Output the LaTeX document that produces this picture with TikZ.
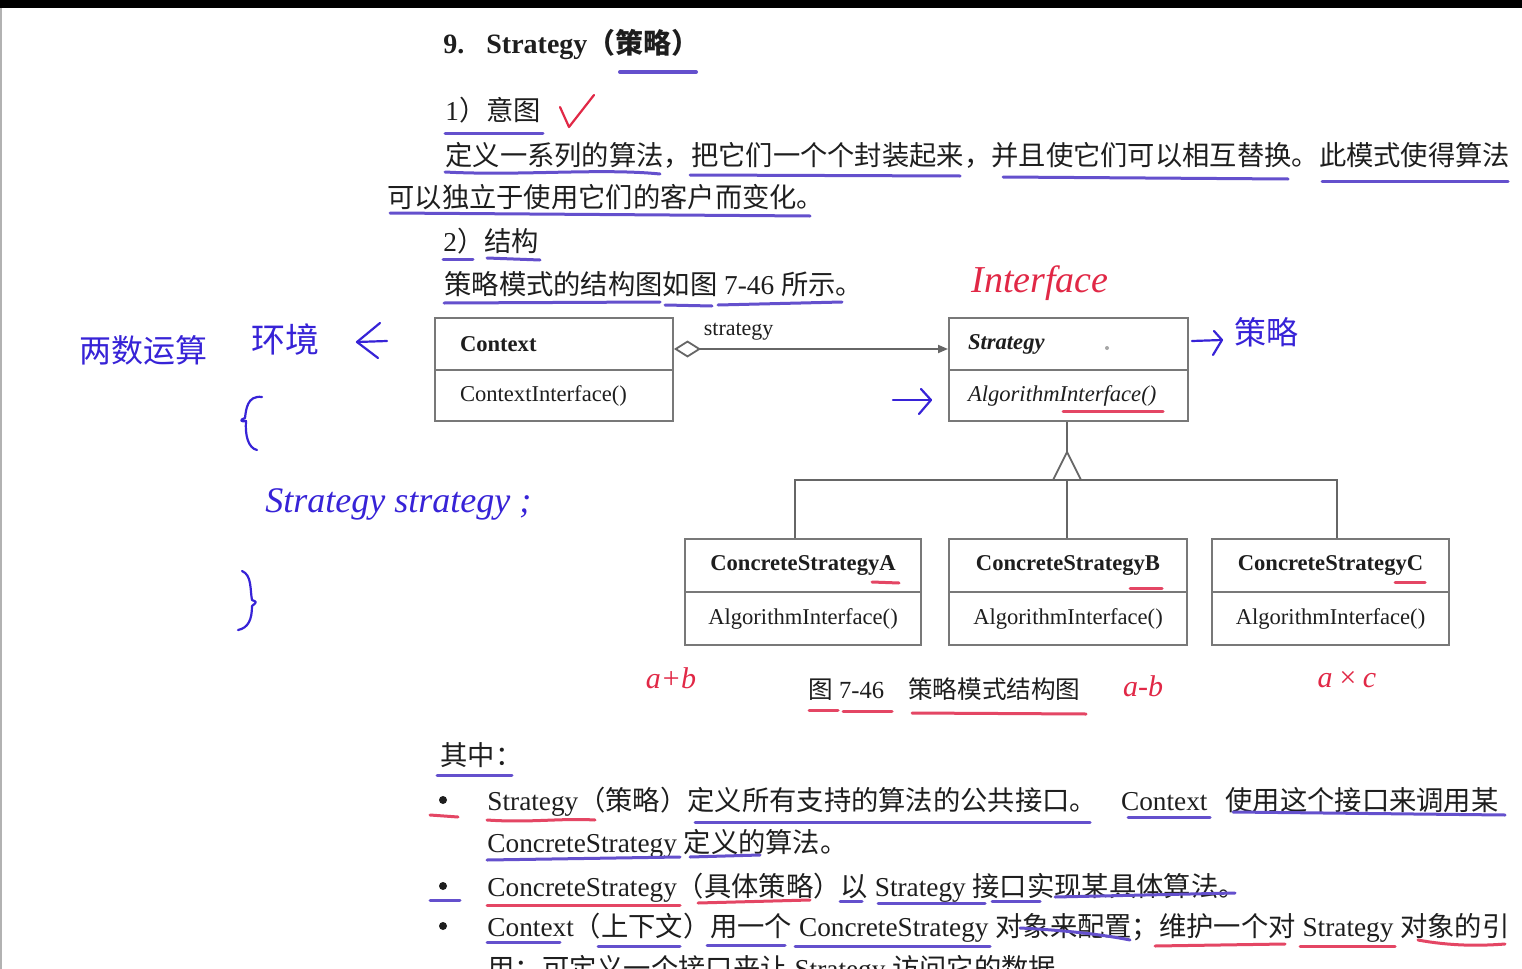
\documentclass[tikz,border=0pt]{standalone}
\usepackage{fontspec}
\setmainfont{Liberation Serif}
\newfontfamily\cjk{Noto Sans CJK SC}
\usetikzlibrary{arrows.meta}
\definecolor{ink}{RGB}{30,30,30}
\definecolor{boxgray}{RGB}{120,120,120}
\definecolor{penblue}{RGB}{55,35,215}
\definecolor{penred}{RGB}{225,40,70}
\definecolor{ulblue}{RGB}{100,80,205}
\definecolor{ulred}{RGB}{228,70,100}
\newcommand{\zh}[1]{{\cjk #1}}
\begin{document}
\begin{tikzpicture}[x=0.5pt,y=-0.5pt,
  body/.style={anchor=base west,inner sep=0pt,text=ink,font=\fontsize{13.65}{16}\selectfont},
  umlbox/.style={draw=boxgray,line width=1pt,inner sep=0pt,text=ink,font=\fontsize{11.3}{13}\selectfont},
  ul/.style={draw=ulblue,line width=1.5pt,line cap=round},
  ulr/.style={draw=ulred,line width=1.5pt,line cap=round},
  pen/.style={draw=penblue,line width=1.1pt,line cap=round,line join=round},
  penr/.style={draw=penred,line width=1.1pt,line cap=round,line join=round},
  hand/.style={inner sep=0pt,text=penblue},
  handr/.style={inner sep=0pt,text=penred},
  conn/.style={draw=boxgray!85!black,line width=0.9pt}
]
\clip (0,0) rectangle (1522,969);
\fill[white] (0,0) rectangle (1522,969);
\fill[black] (0,0) rectangle (1522,8);
\draw[gray!60,line width=1pt] (1,8) -- (1,969);

% ---------- header text ----------
\node[body,font=\bfseries\fontsize{14}{16}\selectfont] (title) at (443,54) {9.\hspace{11pt}Strategy\zh{（策略）}};
\node[body] (t1) at (445,120) {1\zh{）意图}};
\node[body] (t2) at (445,165) {\zh{定义一系列的算法，把它们一个个封装起来，并且使它们可以相互替换。此模式使得算法}};
\node[body] (t3) at (387,207) {\zh{可以独立于使用它们的客户而变化。}};
\node[body] (t4) at (443,251) {2\zh{）结构}};
\node[body] (t5) at (444,294) {\zh{策略模式的结构图如图} 7-46 \zh{所示。}};

% ---------- UML ----------
\node[umlbox,minimum width=119pt,minimum height=26pt,text width=94pt,align=left] (ctxT) at (554,344) {\textbf{Context}};
\node[umlbox,minimum width=119pt,minimum height=25.5pt,text width=94pt,align=left] (ctxB) at (554,395.5) {ContextInterface()};
\node[umlbox,minimum width=119.5pt,minimum height=26pt,text width=100.5pt,align=left] (strT) at (1068.5,344) {\textbf{\textit{Strategy}}};
\node[umlbox,minimum width=119.5pt,minimum height=25.5pt,text width=100.5pt,align=left] (strB) at (1068.5,395.5) {\textit{AlgorithmInterface()}};
\fill[gray!70] (1107,348) circle (1pt);

\node[umlbox,minimum width=118pt,minimum height=26.5pt] (cAT) at (803,565.5) {\textbf{ConcreteStrategyA}};
\node[umlbox,minimum width=118pt,minimum height=26.5pt] (cAB) at (803,618.5) {AlgorithmInterface()};
\node[umlbox,minimum width=119pt,minimum height=26.5pt] (cBT) at (1068,565.5) {\textbf{ConcreteStrategyB}};
\node[umlbox,minimum width=119pt,minimum height=26.5pt] (cBB) at (1068,618.5) {AlgorithmInterface()};
\node[umlbox,minimum width=118.5pt,minimum height=26.5pt] (cCT) at (1330.5,565.5) {\textbf{ConcreteStrategyC}};
\node[umlbox,minimum width=118.5pt,minimum height=26.5pt] (cCB) at (1330.5,618.5) {AlgorithmInterface()};

\draw[conn,{Diamond[open,length=13.5pt,width=8.5pt,fill=white]}-{Triangle[length=5pt,width=4pt]}]
  ([yshift=-2.5pt]ctxT.east) -- node[pos=0.236,above=4pt,inner sep=0pt,text=ink,font=\fontsize{11}{13}\selectfont] (lab) {strategy} ([yshift=-2.5pt]strT.west);

\coordinate (apex) at (1067,452);
\coordinate (bar) at (1067,480);
\coordinate (jA) at (795,480);
\coordinate (jC) at (1337,480);
\draw[conn] (strB.south -| apex) -- (apex);
\draw[conn] (jA |- cAT.north) -- (jA) -- (jC) -- (jC |- cCT.north);
\draw[conn] (bar) -- (bar |- cBT.north);
\draw[conn,fill=white] (apex) -- (1053,480) -- (1081,480) -- cycle;

\node[body,font=\fontsize{12.3}{14}\selectfont] (cap) at (808,698) {\zh{图} 7-46\hspace{12pt}\zh{策略模式结构图}};

% ---------- lower text ----------
\node[body] (q0) at (440,765) {\zh{其中：}};
\fill[ink] (443,800) circle (2pt);
\fill[ink] (443,886) circle (2pt);
\fill[ink] (443,926) circle (2pt);
\node[body] (q1) at (487,810) {Strategy\zh{（策略）定义所有支持的算法的公共接口。}\hspace{12pt}Context\hspace{9pt}\zh{使用这个接口来调用某}};
\node[body] (q2) at (487,852) {ConcreteStrategy \zh{定义的算法。}};
\node[body] (q3) at (487,896) {ConcreteStrategy\zh{（具体策略）以} Strategy \zh{接口实现某具体算法。}};
\node[body] (q4) at (487,936) {Context\zh{（上下文）用一个} ConcreteStrategy \zh{对象来配置；维护一个对} Strategy \zh{对象的引}};
\node[body] (q5) at (487,978) {\zh{用；可定义一个接口来让} Strategy \zh{访问它的数据。}};

% ---------- underlines ----------
\draw[ul,line width=2pt] (620,72) -- (696,72);
\draw[ul] (445,133) -- (543,133);
\draw[ul] (445,172) .. controls (520,176) and (600,168) .. (660,174);
\draw[ul] (690,175) -- (960,176);
\draw[ul] (1003,177) -- (1288,179);
\draw[ul] (1322,181) -- (1508,181);
\draw[ul] (390,213) -- (810,216);
\draw[ul] (443,259) -- (473,259);
\draw[ul] (487,258) -- (540,260);
\draw[ul] (444,303) -- (660,302);
\draw[ul] (665,305) -- (712,306);
\draw[ul] (718,305) -- (842,302);
\draw[ulr] (1063,411) -- (1163,411);
\draw[ulr] (872,582) -- (899,583);
\draw[ulr] (1130,588) -- (1162,588);
\draw[ulr] (1395,582) -- (1425,582);
\draw[ulr] (809,710) -- (838,710);
\draw[ulr] (843,711) -- (892,711);
\draw[ulr] (912,713) -- (1086,714);
\draw[ul] (437,775) -- (512,775);
\draw[ulr] (430,815) -- (458,817);
\draw[ulr] (487,820) .. controls (530,823) and (560,818) .. (595,820);
\draw[ul] (695,822) -- (1090,822);
\draw[ul] (1128,817) -- (1210,817);
\draw[ul] (1233,812) -- (1505,815);
\draw[ul] (487,860) -- (680,857);
\draw[ul] (690,857) -- (760,855);
\draw[ul] (430,900) -- (460,900);
\draw[ulr] (487,905) -- (680,905);
\draw[ulr] (698,903) -- (810,900);
\draw[ul] (840,901) -- (862,901);
\draw[ul] (878,903) -- (985,903);
\draw[ul] (992,901) -- (1040,901);
\draw[ul] (1055,897) -- (1235,893);
\draw[ul] (487,942) -- (560,942);
\draw[ul] (598,946) -- (680,946);
\draw[ul] (707,945) -- (785,945);
\draw[ul] (795,946) -- (990,946);
\draw[ul] (1020,928) .. controls (1060,930) and (1100,934) .. (1130,940);
\draw[ulr] (1155,946) -- (1285,944);
\draw[ulr] (1300,946) -- (1395,946);
\draw[ulr] (1418,940) .. controls (1450,946) and (1480,946) .. (1505,944);

% ---------- handwriting ----------
\draw[penr] (560,107) -- (569,127) -- (594,95);
\node[handr,font=\itshape\fontsize{19}{19}\selectfont] (hInt) at (1040,283) {Interface};
\node[hand,font=\cjk\fontsize{16}{16}\selectfont] (hLeft) at (143,350) {两数运算};
\node[hand,font=\cjk\fontsize{17}{17}\selectfont] (hEnv) at (285,340) {环境};
\draw[pen] (387,341) -- (357,342);
\draw[pen] (380,323) -- (357,342) -- (378,358);
\draw[pen] (262,397) .. controls (247,395) and (246,410) .. (245,418) .. controls (239,420) and (241,422) .. (246,421) .. controls (245,435) and (248,448) .. (257,450);
\node[hand,font=\itshape\fontsize{18}{18}\selectfont,anchor=base west] (hStr) at (265,512) {Strategy strategy ;};
\draw[pen] (242,571) .. controls (252,575) and (250,590) .. (252,600) .. controls (257,602) .. (252,606) .. controls (252,620) and (248,628) .. (238,630);
\draw[pen] (893,400) -- (930,400);
\draw[pen] (921,389) -- (931,400) -- (919,414);
\draw[pen] (1192,341) -- (1222,340);
\draw[pen] (1214,331) -- (1222,340) -- (1213,355);
\node[hand,font=\cjk\fontsize{16}{16}\selectfont] (hCL) at (1266,332) {策略};
\node[handr,font=\itshape\fontsize{15}{15}\selectfont] (hAB) at (671,678) {a+b};
\node[handr,font=\itshape\fontsize{15}{15}\selectfont] (hAmB) at (1143,686) {a-b};
\node[handr,font=\itshape\fontsize{15}{15}\selectfont] (hAxC) at (1347,680) {a\,×\,c};
\end{tikzpicture}
\end{document}
